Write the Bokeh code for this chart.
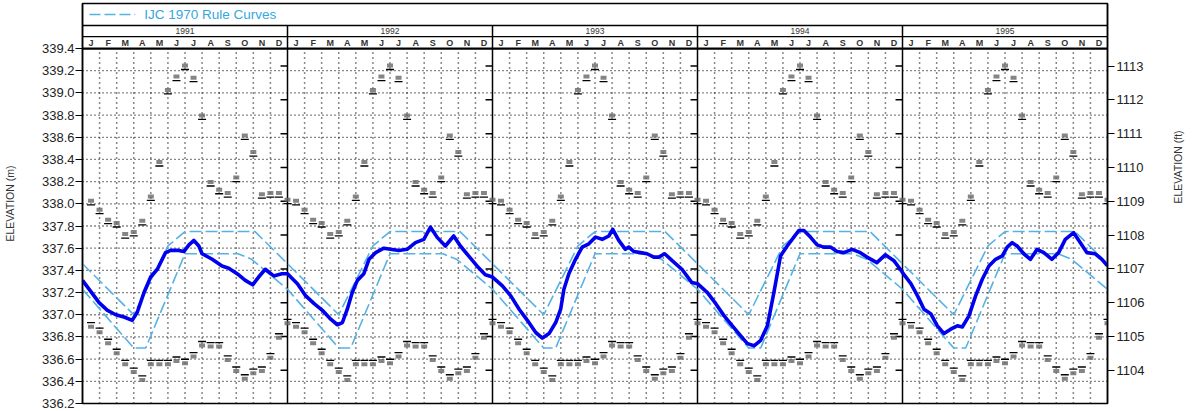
import math
from bokeh.plotting import figure
from bokeh.models import Range1d, LinearAxis, FixedTicker, PrintfTickFormatter
from bokeh.core.properties import value
from bokeh.embed import file_html
from bokeh.resources import INLINE

# ---------------- data ----------------
years = ["1991", "1992", "1993", "1994", "1995"]
month_labels = ["J", "F", "M", "A", "M", "J", "J", "A", "S", "O", "N", "D"]
m_ticks = [336.2, 336.4, 336.6, 336.8, 337.0, 337.2, 337.4, 337.6, 337.8,
           338.0, 338.2, 338.4, 338.6, 338.8, 339.0, 339.2, 339.4]
ft_ticks = [1104, 1105, 1106, 1107, 1108, 1109, 1110, 1111, 1112, 1113]
legend_text = "IJC 1970 Rule Curves"

# observed water level (month position within year, elevation m)
obs_1991_m = [0, 0.58, 0.97, 1.46, 1.95, 2.43, 2.91, 3.2, 3.6, 3.99, 4.38, 4.86, 5.16,
              5.64, 5.93, 6.23, 6.52, 6.81, 7.0, 7.59, 8.17, 8.56, 9.14, 9.53, 9.96,
              10.31, 10.7, 11.19, 11.67]
obs_1991_v = [337.31, 337.19, 337.11, 337.04, 337.00, 336.98, 336.95, 337.02, 337.20,
              337.34, 337.41, 337.56, 337.58, 337.58, 337.57, 337.63, 337.67, 337.62,
              337.55, 337.50, 337.44, 337.42, 337.36, 337.31, 337.27, 337.34, 337.41,
              337.35, 337.37]
obs_1992_m = [0, 0.58, 1.07, 1.56, 2.04, 2.53, 2.92, 3.21, 3.5, 3.79, 4.09, 4.47, 4.77,
              5.16, 5.64, 6.03, 6.52, 7.0, 7.49, 7.98, 8.37, 8.75, 9.24, 9.73, 10.12,
              10.6, 11.09, 11.58]
obs_1992_v = [337.37, 337.28, 337.17, 337.10, 337.04, 336.96, 336.91, 336.93, 337.05,
              337.20, 337.31, 337.37, 337.50, 337.56, 337.60, 337.59, 337.58, 337.59,
              337.65, 337.68, 337.79, 337.70, 337.62, 337.71, 337.62, 337.53, 337.44,
              337.36]
obs_1993_m = [0, 0.58, 1.07, 1.56, 2.04, 2.53, 2.92, 3.31, 3.7, 3.99, 4.18, 4.47, 4.86,
              5.25, 5.64, 6.03, 6.42, 6.81, 7.04, 7.39, 7.78, 7.98, 8.27, 8.66, 9.05,
              9.44, 9.73, 10.08, 10.5, 11.09, 11.67]
obs_1993_v = [337.34, 337.26, 337.17, 337.05, 336.95, 336.84, 336.79, 336.83, 336.93,
              337.05, 337.23, 337.37, 337.50, 337.61, 337.64, 337.70, 337.68, 337.71,
              337.77, 337.67, 337.59, 337.61, 337.57, 337.56, 337.55, 337.52, 337.52,
              337.55, 337.49, 337.41, 337.29]
obs_1994_m = [0, 0.58, 1.07, 1.56, 2.04, 2.53, 2.92, 3.31, 3.7, 4.09, 4.47, 4.86, 5.25,
              5.64, 5.93, 6.23, 6.61, 7.0, 7.39, 7.78, 8.17, 8.56, 9.05, 9.53, 9.92,
              10.5, 10.99, 11.48, 11.87]
obs_1994_v = [337.28, 337.20, 337.10, 336.99, 336.90, 336.81, 336.74, 336.72, 336.77,
              336.90, 337.20, 337.53, 337.62, 337.70, 337.76, 337.76, 337.70, 337.63,
              337.61, 337.61, 337.57, 337.56, 337.59, 337.56, 337.52, 337.47, 337.54,
              337.49, 337.41]
obs_1995_m = [0, 0.49, 0.88, 1.26, 1.65, 2.04, 2.43, 2.82, 3.21, 3.5, 3.89, 4.28, 4.67,
              5.06, 5.45, 5.84, 6.13, 6.42, 6.71, 7.1, 7.49, 7.88, 8.27, 8.75, 9.14,
              9.53, 10.02, 10.41, 10.8, 11.28, 11.67, 12.0]
obs_1995_v = [337.38, 337.28, 337.17, 337.05, 337.01, 336.90, 336.83, 336.87, 336.90,
              336.89, 336.99, 337.17, 337.32, 337.44, 337.50, 337.53, 337.61, 337.65,
              337.62, 337.55, 337.50, 337.59, 337.56, 337.50, 337.56, 337.68, 337.74,
              337.65, 337.56, 337.55, 337.50, 337.44]

# IJC 1970 rule curves (same each year)
rule_upper_m = [0, 3.0, 5.0, 6.0, 10.1, 12.0]
rule_upper_v = [337.46, 337.00, 337.62, 337.75, 337.75, 337.46]
rule_lower_m = [0, 3.0, 3.7, 6.0, 9.1, 9.9, 12.0]
rule_lower_v = [337.23, 336.70, 336.70, 337.55, 337.55, 337.50, 337.23]

# semi-monthly historical maxima / minima (same each year)
semi_month = [0.5, 1.0, 1.5, 2.0, 2.5, 3.0, 3.5, 4.0, 4.5, 5.0, 5.5, 6.0,
              6.5, 7.0, 7.5, 8.0, 8.5, 9.0, 9.5, 10.0, 10.5, 11.0, 11.5, 12.0]
hist_max = [338.00, 337.92, 337.83, 337.80, 337.70, 337.72, 337.82, 338.04,
            338.35, 339.00, 339.12, 339.22, 339.11, 338.77, 338.17, 338.10,
            338.07, 338.21, 338.59, 338.44, 338.06, 338.07, 338.07, 338.01]
hist_min = [336.92, 336.87, 336.77, 336.68, 336.58, 336.51, 336.44, 336.58,
            336.58, 336.58, 336.61, 336.59, 336.65, 336.75, 336.74, 336.74,
            336.62, 336.52, 336.45, 336.50, 336.52, 336.64, 336.82, 336.95]

obs_m = [obs_1991_m, obs_1992_m, obs_1993_m, obs_1994_m, obs_1995_m]
obs_v = [obs_1991_v, obs_1992_v, obs_1993_v, obs_1994_v, obs_1995_v]

# ---------------- layout ----------------
W, H = 1193, 410
BL, BR, BT, BB = 82, 81, 3, 7
frame_w = W - BL - BR
frame_h = H - BT - BB
n_years = len(years)
x_end = 12 * n_years
y_start, y_top = 336.2, 339.4
y_end = y_top + 0.406
ppm_x = frame_w / x_end
ppm_y = frame_h / (y_end - y_start)
hdr_legend = y_top + 23 / ppm_y
hdr_year = y_top + 12 / ppm_y

FONT = "Liberation Sans"
RULE_C = "#55b2e4"
OBS_C = "#0000ee"

p = figure(width=W, height=H, x_range=Range1d(0, x_end), y_range=Range1d(y_start, y_end),
           output_backend="svg", toolbar_location=None, x_axis_location=None,
           y_axis_location="left", min_border_left=BL, min_border_right=BR,
           min_border_top=BT, min_border_bottom=BB)
p.grid.visible = False
p.outline_line_color = "black"
p.outline_line_width = 1.5
p.background_fill_color = "white"
p.border_fill_color = "white"

ya = p.yaxis[0]
ya.ticker = FixedTicker(ticks=m_ticks)
ya.formatter = PrintfTickFormatter(format="%.1f")
ya.major_tick_out = 7
ya.major_tick_in = 0
ya.minor_tick_out = 0
ya.major_label_standoff = 1
ya.major_label_text_font = FONT
ya.major_label_text_font_size = "13px"
ya.major_label_text_color = "#222"
ya.axis_line_color = "black"
ya.axis_line_width = 1.5
ya.axis_label = "ELEVATION (m)"
ya.axis_label_standoff = 23
ya.axis_label_text_font = FONT
ya.axis_label_text_font_size = "10.5px"
ya.axis_label_text_font_style = "normal"
ya.axis_label_text_color = "#333"

p.extra_y_ranges = {"ft": Range1d(y_start / 0.3048, y_end / 0.3048)}
ra = LinearAxis(y_range_name="ft", ticker=FixedTicker(ticks=ft_ticks),
                formatter=PrintfTickFormatter(format="%d"))
ra.major_tick_out = 7
ra.major_tick_in = 0
ra.minor_tick_out = 0
ra.major_label_standoff = 2
ra.major_label_text_font = FONT
ra.major_label_text_font_size = "13px"
ra.major_label_text_color = "#222"
ra.axis_line_color = "black"
ra.axis_line_width = 1.5
ra.axis_label = "ELEVATION (ft)"
ra.axis_label_orientation = math.pi / 2
ra.axis_label_standoff = 31
ra.axis_label_text_font = FONT
ra.axis_label_text_font_size = "10.5px"
ra.axis_label_text_font_style = "normal"
ra.axis_label_text_color = "#333"
p.add_layout(ra, "right")

# dotted grid
h_levels = [t for t in m_ticks if y_start < t < y_top]
p.multi_line(xs=[[0, x_end] for _ in h_levels], ys=[[t, t] for t in h_levels],
             line_color="#111", line_width=1.3, line_dash="1 3")
v_pos = [k for k in range(1, x_end) if k % 12 != 0]
p.multi_line(xs=[[k, k] for k in v_pos], ys=[[y_start, y_top] for _ in v_pos],
             line_color="#111", line_width=1.5, line_dash="1 4")

# panel dividers and header lines
dividers = [12 * k for k in range(1, n_years)]
p.multi_line(xs=[[d, d] for d in dividers], ys=[[y_start, hdr_legend] for _ in dividers],
             line_color="black", line_width=1.5)
p.line([0, x_end], [hdr_legend, hdr_legend], line_color="black", line_width=1.5)
p.line([0, x_end], [hdr_year, hdr_year], line_color="black", line_width=1.2)
p.line([0, x_end], [y_top, y_top], line_color="black", line_width=2.2)

# inner ft ticks on dividers
tick_len = 7 / ppm_x
txs, tys = [], []
for d in dividers:
    for f in ft_ticks:
        txs.append([d - tick_len, d])
        tys.append([f * 0.3048, f * 0.3048])
p.multi_line(xs=txs, ys=tys, line_color="black", line_width=1.5)

# header text
p.text(x=[12 * k + 6 for k in range(n_years)], y=[(hdr_legend + hdr_year) / 2] * n_years,
       text=years, text_font=value(FONT), text_font_size=value("8.5px"),
       text_color="#333", text_align="center", text_baseline="middle")
mx, mt = [], []
for k in range(n_years):
    for i, lab in enumerate(month_labels):
        mx.append(12 * k + i + 0.5)
        mt.append(lab)
p.text(x=mx, y=[(hdr_year + y_top) / 2] * len(mx), text=mt, text_font=value(FONT),
       text_font_size=value("9px"), text_font_style="bold", text_color="#333",
       text_align="center", text_baseline="middle")

# legend
leg_y = (y_end + hdr_legend) / 2
p.line([7 / ppm_x, 53 / ppm_x], [leg_y, leg_y], line_color=RULE_C, line_width=1.5,
       line_dash="11 4")
p.text(x=[62 / ppm_x], y=[leg_y], text=[legend_text], text_font=value(FONT),
       text_font_size=value("13.5px"), text_color="#35a6df", text_align="left",
       text_baseline="middle")

# historical max/min markers
off = 3 / ppm_y
xs_h, ymax, ymin = [], [], []
for k in range(n_years):
    for j, sm in enumerate(semi_month):
        xs_h.append(12 * k + sm)
        ymax.append(hist_max[j])
        ymin.append(hist_min[j])
p.rect(x=xs_h, y=[v + off for v in ymax], width=6, height=4, width_units="screen",
       height_units="screen", fill_color="#666", line_color=None, fill_alpha=0.8)
p.scatter(x=xs_h, y=[v - 1 / ppm_y for v in ymax], marker="dash", size=8,
          line_color="black", line_width=1.3)
p.rect(x=xs_h, y=[v - off for v in ymin], width=6, height=4, width_units="screen",
       height_units="screen", fill_color="#666", line_color=None, fill_alpha=0.8)
p.scatter(x=xs_h, y=[v + 1 / ppm_y for v in ymin], marker="dash", size=8,
          line_color="black", line_width=1.3)

# rule curves
ux, uy, lx, ly = [], [], [], []
for k in range(n_years):
    ux += [12 * k + m for m in rule_upper_m]
    uy += rule_upper_v
    lx += [12 * k + m for m in rule_lower_m]
    ly += rule_lower_v
p.line(ux, uy, line_color=RULE_C, line_width=1.6, line_dash="12 4")
p.line(lx, ly, line_color=RULE_C, line_width=1.6, line_dash="12 4")

# observed
ox, oy = [], []
for k in range(n_years):
    ox += [12 * k + m for m in obs_m[k]]
    oy += obs_v[k]
p.line(ox, oy, line_color=OBS_C, line_width=3.6, line_join="round")

open("out.html", "w").write(file_html(p, INLINE))
